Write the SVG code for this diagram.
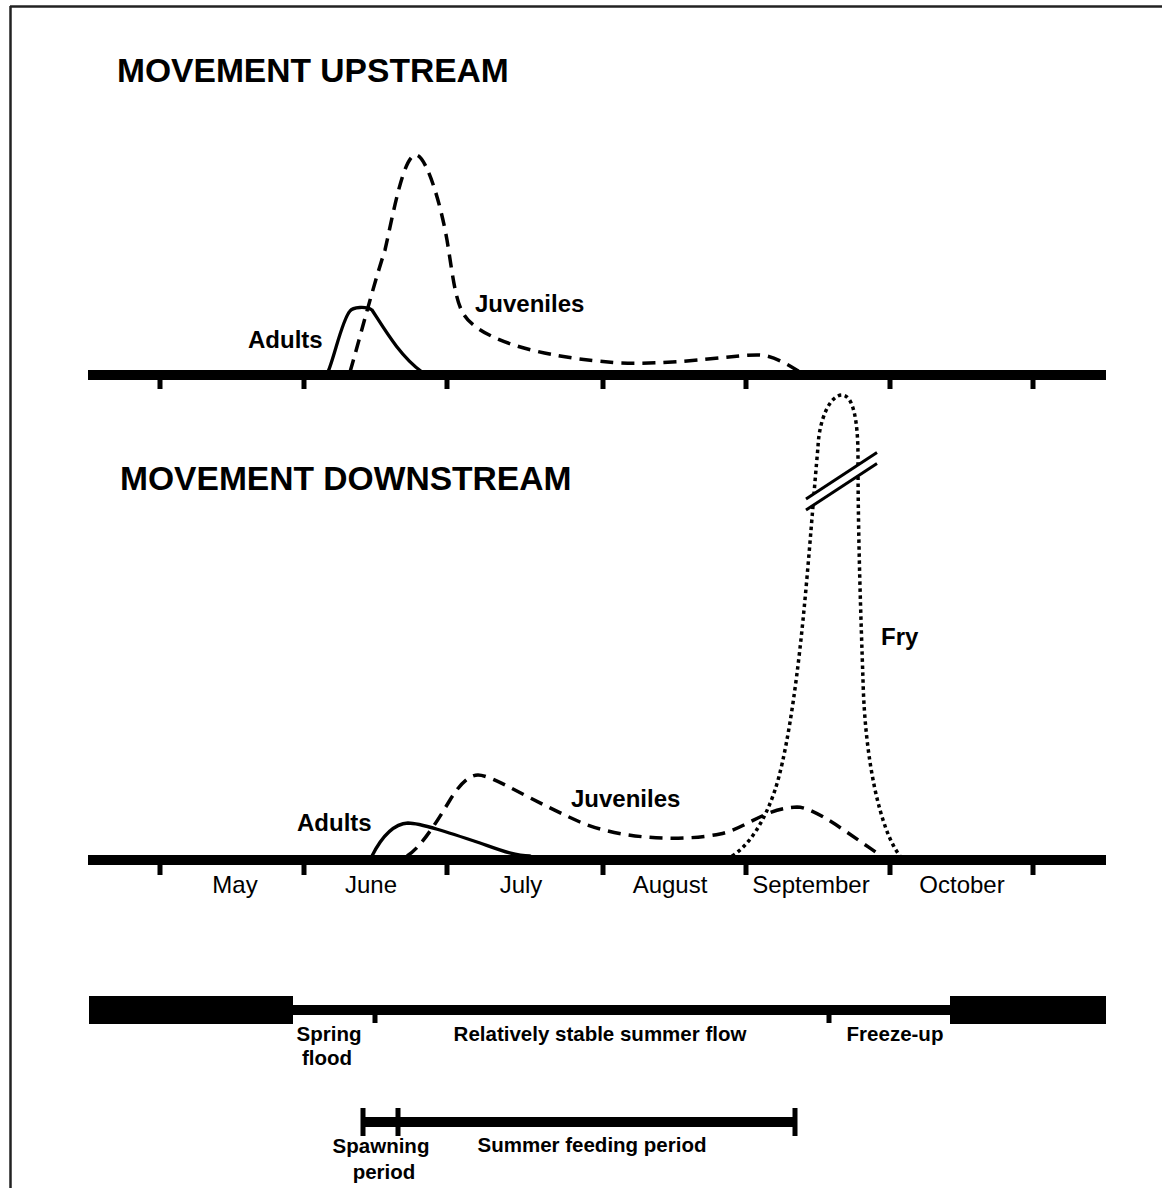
<svg xmlns="http://www.w3.org/2000/svg" width="1162" height="1188" viewBox="0 0 1162 1188">
<style>
text{font-family:"Liberation Sans",Arial,sans-serif;fill:#000}
.title{font-size:33.6px;font-weight:bold}
.lbl{font-size:24px;font-weight:bold}
.mon{font-size:24px;text-anchor:middle}
.sm{font-size:20.5px;font-weight:bold;text-anchor:middle}
.axis{stroke:#000;stroke-width:10;fill:none}
.tick{stroke:#000;stroke-width:5;fill:none}
.solid{stroke:#000;stroke-width:3.3;fill:none;stroke-linecap:round}
.dash{stroke:#000;stroke-width:3.5;fill:none;stroke-dasharray:13 8}
.dot{stroke:#000;stroke-width:3.5;fill:none;stroke-dasharray:3.5 3.5}
</style>
<rect width="1162" height="1188" fill="#fff"/>
<g id="frame">
<line x1="10" y1="6.5" x2="1162" y2="6.5" stroke="#222" stroke-width="2.5"/>
<line x1="10.5" y1="6" x2="10.5" y2="1188" stroke="#222" stroke-width="2.5"/>
</g>
<g id="upstream-panel">
<text class="title" x="117" y="82">MOVEMENT UPSTREAM</text>
<line class="axis" x1="88" y1="375" x2="1106" y2="375"/>
<path class="tick" d="M160,379V389M304,379V389M447,379V389M603,379V389M746,379V389M890,379V389M1033,379V389"/>
</g>
<g id="upstream-adults">
<path class="solid" d="M328,372 C335,355 342,320 350,311 C353,307 366,306 372,310 C385,330 400,356 422,372"/>
<text class="lbl" x="248" y="348">Adults</text>
</g>
<g id="upstream-juveniles">
<path class="dash" d="M350,372 C358,345 372,290 385,250 C393,215 403,158 415,155 C425,152.5 440,200 447,240 C452,270 455,300 463,313 C472,330 510,355 620,363 C680,365 740,354 760,355 C775,356 790,366 800,372"/>
<text class="lbl" x="475" y="312">Juveniles</text>
</g>
<g id="downstream-panel">
<text class="title" x="120" y="490">MOVEMENT DOWNSTREAM</text>
<line class="axis" x1="88" y1="860" x2="1106" y2="860"/>
<path class="tick" d="M160,864V875M304,864V875M447,864V875M603,864V875M746,864V875M890,864V875M1033,864V875"/>
<text class="mon" x="235" y="893">May</text>
<text class="mon" x="371" y="893">June</text>
<text class="mon" x="521" y="893">July</text>
<text class="mon" x="670" y="893">August</text>
<text class="mon" x="811" y="893">September</text>
<text class="mon" x="962" y="893">October</text>
</g>
<g id="downstream-adults">
<path class="solid" d="M372,856 C380,840 392,824 408,823 C420,823 450,833 480,843 C500,850 515,856 530,856"/>
<text class="lbl" x="297" y="831">Adults</text>
</g>
<g id="downstream-juveniles">
<path class="dash" d="M407,856 C420,848 435,825 450,800 C458,787 468,775 478,775 C492,775 530,800 580,822 C620,839 680,842 720,834 C745,829 765,808 797,807 C815,807 850,835 883,857"/>
<text class="lbl" x="571" y="807">Juveniles</text>
</g>
<g id="downstream-fry">
<path class="dot" d="M732,856 C750,845 765,820 775,790 C785,760 795,700 803,620 C809,560 814,490 818,447 C819,420 830,395 842,395 C853,395 858,420 858,457 C858,540 861,620 863,680 C865,760 880,830 900,856"/>
<line x1="805" y1="504" x2="878" y2="457.5" stroke="#fff" stroke-width="9"/>
<line x1="806" y1="499" x2="877" y2="452.5" stroke="#000" stroke-width="3"/>
<line x1="806" y1="510" x2="877" y2="463.5" stroke="#000" stroke-width="3"/>
<text class="lbl" x="881" y="645">Fry</text>
</g>
<g id="flow-periods">
<rect x="89" y="996" width="204" height="28" fill="#000"/>
<rect x="950" y="996" width="156" height="28" fill="#000"/>
<line class="axis" x1="293" y1="1010" x2="950" y2="1010"/>
<path class="tick" d="M375,1014V1023M829,1014V1023"/>
<text class="sm" x="329" y="1041">Spring</text>
<text class="sm" x="327" y="1065">flood</text>
<text class="sm" x="600" y="1041">Relatively stable summer flow</text>
<text class="sm" x="895" y="1041">Freeze-up</text>
</g>
<g id="life-periods">
<line class="axis" x1="363" y1="1122" x2="795" y2="1122"/>
<path d="M363,1108V1136M398,1108V1136M795,1108V1136" stroke="#000" stroke-width="5" fill="none"/>
<text class="sm" x="381" y="1153">Spawning</text>
<text class="sm" x="384" y="1179">period</text>
<text class="sm" x="592" y="1152">Summer feeding period</text>
</g>
</svg>
